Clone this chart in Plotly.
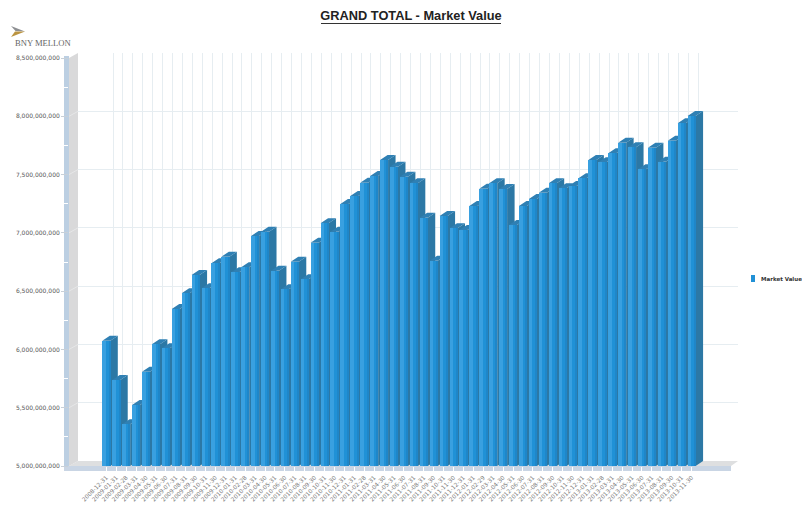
import plotly.graph_objects as go

dates = ["2008-12-31","2009-01-31","2009-02-28","2009-03-31","2009-04-30","2009-05-31","2009-06-30","2009-07-31","2009-08-31","2009-09-30","2009-10-31","2009-11-30",
"2009-12-31","2010-01-31","2010-02-28","2010-03-31","2010-04-30","2010-05-31","2010-06-30","2010-07-31","2010-08-31","2010-09-30","2010-10-31","2010-11-30",
"2010-12-31","2011-01-31","2011-02-28","2011-03-31","2011-04-30","2011-05-31","2011-06-30","2011-07-31","2011-08-31","2011-09-30","2011-10-31","2011-11-30",
"2011-12-31","2012-01-31","2012-02-29","2012-03-31","2012-04-30","2012-05-31","2012-06-30","2012-07-31","2012-08-31","2012-09-30","2012-10-31","2012-11-30",
"2012-12-31","2013-01-31","2013-02-28","2013-03-31","2013-04-30","2013-05-31","2013-06-30","2013-07-31","2013-08-31","2013-09-30","2013-10-31","2013-11-30"]
market_value_millions = [6075,5738,5358,5523,5809,6044,6010,6347,6481,6638,6524,6739,
6795,6662,6704,6973,7010,6675,6516,6752,6602,6915,7082,7010,
7247,7316,7430,7488,7625,7567,7482,7425,7130,6761,7145,7039,
7024,7230,7379,7425,7376,7067,7230,7290,7344,7425,7382,7402,
7468,7625,7605,7682,7773,7734,7545,7730,7610,7790,7940,8002]
y_ticks = [5000000000,5500000000,6000000000,6500000000,7000000000,7500000000,8000000000,8500000000]

W, H = 802, 505
values = [v * 1e6 for v in market_value_millions]
idx = list(range(len(dates)))
FONT = "DejaVu Sans"

# pixel geometry of the 3-D frame
PITCH = 9.92
FRONT_X0 = 106.3
BACK_X0 = 113.0
Y_BASE, Y_TOP = 466, 58
DEPTH_Y = 5
fx = lambda p: p / W
fy = lambda p: 1 - p / H
VPP = (y_ticks[-1] - y_ticks[0]) / (Y_BASE - Y_TOP)
dx = 7.5 / PITCH
dy = DEPTH_Y * VPP
hw = 4.0 / PITCH
LO, HI = y_ticks[0], y_ticks[-1]

def poly(points):
    d = "M" + " L".join(f"{fx(a):.5f},{fy(b):.5f}" for a, b in points) + " Z"
    return d

def shape(points, color):
    return dict(type="path", path=poly(points), xref="paper", yref="paper",
                fillcolor=color, line=dict(width=0), layer="below")

shapes = [
    shape([(69, 466), (731, 466), (738, 461), (78, 461)], "#dedfe0"),
    shape([(69, 58), (78, 53), (78, 461), (69, 466)], "#d9d9da"),
    shape([(64, 56), (69, 56), (69, 471), (64, 471)], "#bccfe2"),
    shape([(64, 466), (731, 466), (731, 471), (64, 471)], "#c9d5e4"),
    # logo
    shape([(11, 26), (25, 31.5), (15.5, 31)], "#8d8f92"),
    shape([(11, 37), (25, 31.5), (15, 31.5)], "#bb9440"),
    # title underline
    dict(type="line", xref="paper", yref="paper", x0=fx(321), x1=fx(501), y0=fy(23.5), y1=fy(23.5),
         line=dict(color="#333333", width=1)),
    # legend swatch
    shape([(751, 275), (755, 275), (755, 282), (751, 282)], "#2191d6"),
]
for t in y_ticks[1:-1]:
    yp = Y_BASE - (t - LO) / VPP
    shapes.append(dict(type="line", xref="paper", yref="paper", x0=fx(69), x1=fx(78),
                       y0=fy(yp), y1=fy(yp - DEPTH_Y), line=dict(color="#e6e7e8", width=1), layer="below"))

# sides and tops of the bars
side_x, side_y, top_x, top_y = [], [], [], []
for i, v in zip(idx, values):
    side_x += [i + hw, i + hw + dx, i + hw + dx, i + hw, i + hw, None]
    side_y += [LO, LO + dy, v + dy, v, LO, None]
    top_x += [i - hw, i + hw, i + hw + dx, i - hw + dx, i - hw, None]
    top_y += [v, v, v + dy, v + dy, v, None]

fig = go.Figure()
# back plane, carries only the grid
fig.add_trace(go.Scatter(x=[idx[0]], y=[LO], mode="none", xaxis="x", yaxis="y", showlegend=False, hoverinfo="skip"))
fig.add_trace(go.Scatter(x=side_x, y=side_y, mode="none", fill="toself", fillcolor="#2c78a5",
                         xaxis="x2", yaxis="y2", showlegend=False, hoverinfo="skip"))
fig.add_trace(go.Scatter(x=top_x, y=top_y, mode="none", fill="toself", fillcolor="#2f80b4",
                         xaxis="x2", yaxis="y2", showlegend=False, hoverinfo="skip"))
# front faces: three vertical strips give the shading
for color, off, wid, name in [("#2091d6", -hw, 2 * hw, "Market Value"),
                              ("#39a0e0", -hw, 0.9 * hw, "Market Value (light)"),
                              ("#1f86c8", hw * 0.7, 0.3 * hw, "Market Value (edge)")]:
    fig.add_trace(go.Bar(x=idx, y=values, width=wid, offset=off, marker=dict(color=color, line=dict(width=0)),
                         name=name, xaxis="x3", yaxis="y3", showlegend=False))

front_xr = [(69 - FRONT_X0) / PITCH, (731 - FRONT_X0) / PITCH]
back_xr = [(78 - BACK_X0) / PITCH, (738 - BACK_X0) / PITCH]
GRID = "#e6edf1"

fig.update_layout(
    width=W, height=H, autosize=False, margin=dict(l=0, r=0, t=0, b=0, autoexpand=False),
    paper_bgcolor="white", plot_bgcolor="rgba(0,0,0,0)", barmode="overlay", bargap=0,
    showlegend=False, shapes=shapes,
    font=dict(family=FONT, size=6, color="#555555"),
    title=dict(text="<b>GRAND TOTAL - Market Value</b>", x=411 / W, xanchor="center", y=fy(16), yanchor="middle",
               font=dict(family="Liberation Sans", size=12.8, color="#222222")),
    xaxis=dict(domain=[fx(78), fx(738)], range=back_xr, tickmode="array", tickvals=idx, ticks="",
               showticklabels=False, showgrid=True, gridcolor=GRID, gridwidth=1, zeroline=False, showline=False,
               anchor="y", fixedrange=True),
    yaxis=dict(domain=[fy(461), fy(53)], range=[LO, HI], tickmode="array", tickvals=y_ticks, ticks="",
               showticklabels=False, showgrid=True, gridcolor=GRID, gridwidth=1, zeroline=False, showline=False,
               anchor="x", fixedrange=True),
    xaxis2=dict(domain=[fx(69), fx(731)], range=front_xr, tickmode="array", tickvals=idx, ticktext=dates,
                tickangle=-45, ticks="outside", ticklen=5, tickcolor="#ffffff", tickwidth=1,
                tickfont=dict(family=FONT, size=5.8, color="#777777"),
                showgrid=False, zeroline=False, showline=False, anchor="y2", fixedrange=True),
    yaxis2=dict(domain=[fy(Y_BASE), fy(Y_TOP)], range=[LO, HI], tickmode="array", tickvals=y_ticks,
                ticks="outside", ticklen=7, tickcolor="#c8d0d8", tickwidth=1,
                tickformat=",d", tickfont=dict(family=FONT, size=6, color="#555555"),
                minor=dict(ticks="outside", ticklen=5, tickcolor="#ffffff", dtick=250000000, tick0=5000000000, showgrid=False),
                showgrid=False, zeroline=False, showline=False, anchor="x2", fixedrange=True),
    xaxis3=dict(overlaying="x2", range=front_xr, visible=False, anchor="y3", fixedrange=True),
    yaxis3=dict(overlaying="y2", range=[LO, HI], visible=False, anchor="x3", fixedrange=True),
    annotations=[
        dict(text="BNY MELLON", xref="paper", yref="paper", x=fx(12.5), y=fy(43), xanchor="left", yanchor="middle",
             showarrow=False, font=dict(family="Liberation Serif", size=8.6, color="#666666")),
        dict(text="<b>Market Value</b>", xref="paper", yref="paper", x=fx(759), y=fy(278.5), xanchor="left",
             yanchor="middle", showarrow=False, font=dict(family=FONT, size=5.5, color="#333333")),
    ],
)

fig.write_html("out.html", config=dict(displayModeBar=False),
               post_script="document.body.style.margin='0';document.body.style.overflow='hidden';")
